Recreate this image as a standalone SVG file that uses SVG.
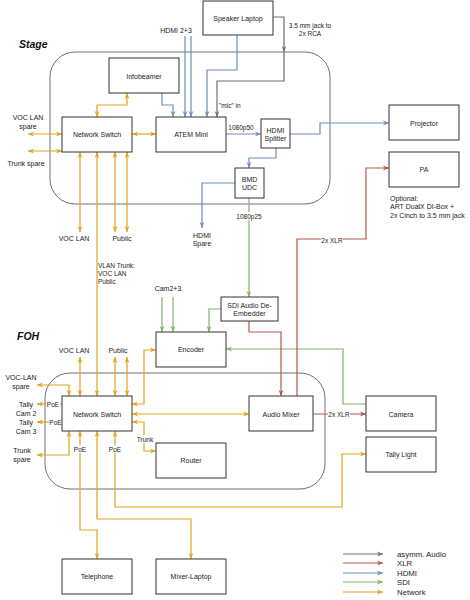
<svg xmlns="http://www.w3.org/2000/svg" width="470" height="600" viewBox="0 0 470 600">
<style>
text{font-family:"Liberation Sans",Arial,sans-serif;fill:#222;}
.n rect{fill:#fff;stroke:#333;stroke-width:1;}
.n text{font-size:7px;text-anchor:middle;dominant-baseline:central;}
.c{fill:none;stroke-width:1.2;}
.gy{stroke:#707070;}
.rd{stroke:#b85450;}
.bl{stroke:#6c8ebf;}
.gr{stroke:#82b366;}
.or{stroke:#e0a21c;}
.lbl{font-size:6.5px;text-anchor:middle;dominant-baseline:central;}
.t7{font-size:7px;dominant-baseline:central;}
.bg{fill:#fff;stroke:none;}
.cont{fill:none;stroke:#707070;stroke-width:1;}
.title{font-size:10.5px;font-weight:bold;font-style:italic;fill:#111;}
</style>
<defs>
<marker id="aGy" viewBox="0 0 10 10" refX="10" refY="5" markerUnits="userSpaceOnUse" markerWidth="6" markerHeight="6" orient="auto-start-reverse"><path d="M0,1 L10,5 L0,9 L3,5 z" fill="#707070"/></marker>
<marker id="aRd" viewBox="0 0 10 10" refX="10" refY="5" markerUnits="userSpaceOnUse" markerWidth="6" markerHeight="6" orient="auto-start-reverse"><path d="M0,1 L10,5 L0,9 L3,5 z" fill="#b85450"/></marker>
<marker id="aBl" viewBox="0 0 10 10" refX="10" refY="5" markerUnits="userSpaceOnUse" markerWidth="6" markerHeight="6" orient="auto-start-reverse"><path d="M0,1 L10,5 L0,9 L3,5 z" fill="#6c8ebf"/></marker>
<marker id="aGr" viewBox="0 0 10 10" refX="10" refY="5" markerUnits="userSpaceOnUse" markerWidth="6" markerHeight="6" orient="auto-start-reverse"><path d="M0,1 L10,5 L0,9 L3,5 z" fill="#82b366"/></marker>
<marker id="aOr" viewBox="0 0 10 10" refX="10" refY="5" markerUnits="userSpaceOnUse" markerWidth="6" markerHeight="6" orient="auto-start-reverse"><path d="M0,1 L10,5 L0,9 L3,5 z" fill="#e0a21c"/></marker>
</defs>

<g id="containers">
<rect class="cont" x="50" y="52" width="280" height="152" rx="25"/>
<rect class="cont" x="45" y="373" width="280" height="116" rx="25"/>
<text class="title" x="19" y="48">Stage</text>
<text class="title" x="17" y="340">FOH</text>
</g>

<g id="connectors">
<!-- gray audio -->
<path class="c gy" d="M273,17 H284 V52" marker-end="url(#aGy)"/>
<path class="c gy" d="M284,52 V81 H217 V117" marker-end="url(#aGy)"/>
<!-- blue HDMI -->
<path class="c bl" d="M237,35 V70 H207 V117" marker-end="url(#aBl)"/>
<path class="c bl" d="M185,36 V117" marker-end="url(#aBl)"/>
<path class="c bl" d="M191,36 V117" marker-end="url(#aBl)"/>
<path class="c bl" d="M162,93 V105 H173 V117" marker-end="url(#aBl)"/>
<path class="c bl" d="M226,134 H261" marker-end="url(#aBl)"/>
<path class="c bl" d="M290,134 H320 V123 H389" marker-end="url(#aBl)"/>
<path class="c bl" d="M276,148 V158 H249 V168" marker-end="url(#aBl)"/>
<path class="c bl" d="M235,183 H202 V228" marker-end="url(#aBl)"/>
<!-- green SDI -->
<path class="c gr" d="M249,198 V297" marker-end="url(#aGr)"/>
<path class="c gr" d="M221,309 H209 V332" marker-end="url(#aGr)"/>
<path class="c gr" d="M162,297 V332" marker-end="url(#aGr)"/>
<path class="c gr" d="M173,297 V332" marker-end="url(#aGr)"/>
<path class="c gr" d="M366,404 H343 V349 H226" marker-end="url(#aGr)"/>
<!-- red XLR -->
<path class="c rd" d="M249,321 V332 H281 V396" marker-end="url(#aRd)"/>
<path class="c rd" d="M297,396 V239 H366 V168 H389" marker-end="url(#aRd)"/>
<path class="c rd" d="M313,414 H366" marker-end="url(#aRd)"/>
<!-- orange network: stage -->
<path class="c or" d="M97,117 V105 H127 V93" marker-start="url(#aOr)" marker-end="url(#aOr)"/>
<path class="c or" d="M132,134 H156" marker-start="url(#aOr)" marker-end="url(#aOr)"/>
<path class="c or" d="M28,134 H62" marker-start="url(#aOr)" marker-end="url(#aOr)"/>
<path class="c or" d="M28,151 H62" marker-start="url(#aOr)" marker-end="url(#aOr)"/>
<path class="c or" d="M80,152 V232" marker-start="url(#aOr)" marker-end="url(#aOr)"/>
<path class="c or" d="M97,152 V396" marker-start="url(#aOr)" marker-end="url(#aOr)"/>
<path class="c or" d="M115,152 V232" marker-start="url(#aOr)" marker-end="url(#aOr)"/>
<path class="c or" d="M127,152 V232" marker-start="url(#aOr)" marker-end="url(#aOr)"/>
<!-- orange network: FOH -->
<path class="c or" d="M80,396 V357" marker-start="url(#aOr)" marker-end="url(#aOr)"/>
<path class="c or" d="M115,396 V357" marker-start="url(#aOr)" marker-end="url(#aOr)"/>
<path class="c or" d="M127,396 V357" marker-start="url(#aOr)" marker-end="url(#aOr)"/>
<path class="c or" d="M132,404 H144 V350 H156" marker-start="url(#aOr)" marker-end="url(#aOr)"/>
<path class="c or" d="M132,414 H249" marker-start="url(#aOr)" marker-end="url(#aOr)"/>
<path class="c or" d="M132,422 H144 V451 H156" marker-start="url(#aOr)" marker-end="url(#aOr)"/>
<path class="c or" d="M69,396 V385 H37" marker-start="url(#aOr)" marker-end="url(#aOr)"/>
<path class="c or" d="M62,404 H37" marker-end="url(#aOr)"/>
<path class="c or" d="M62,422 H37" marker-end="url(#aOr)"/>
<path class="c or" d="M69,431 V455 H37" marker-start="url(#aOr)" marker-end="url(#aOr)"/>
<path class="c or" d="M80,431 V530 H97 V559" marker-start="url(#aOr)" marker-end="url(#aOr)"/>
<path class="c or" d="M97,431 V519 H191 V559" marker-start="url(#aOr)" marker-end="url(#aOr)"/>
<path class="c or" d="M115,431 V507 H342 V454 H366" marker-start="url(#aOr)" marker-end="url(#aOr)"/>
<!-- connector labels -->
<text class="lbl" x="310" y="25">3.5 mm jack to</text>
<text class="lbl" x="310" y="33">2x RCA</text>
<text class="lbl" x="219" y="105" style="text-anchor:start">"mic" in</text>
<text class="lbl" x="241" y="127">1080p50</text>
<rect class="bg" x="237" y="212" width="24" height="8"/>
<text class="lbl" x="249" y="216">1080p25</text>
<rect class="bg" x="321" y="236" width="22" height="8"/>
<text class="lbl" x="332" y="240">2x XLR</text>
<rect class="bg" x="328" y="410" width="22" height="8"/>
<text class="lbl" x="339" y="414">2x XLR</text>
<rect class="bg" x="46" y="400" width="14" height="8"/>
<text class="lbl" x="53" y="404">PoE</text>
<rect class="bg" x="49" y="418" width="13" height="8"/>
<text class="lbl" x="55.5" y="422">PoE</text>
<rect class="bg" x="73" y="445" width="14" height="8"/>
<text class="lbl" x="80" y="449">PoE</text>
<rect class="bg" x="108" y="445" width="14" height="8"/>
<text class="lbl" x="115" y="449">PoE</text>
<rect class="bg" x="136" y="435" width="18" height="8"/>
<text class="lbl" x="145" y="439">Trunk</text>
<text class="lbl" x="98" y="265" style="text-anchor:start">VLAN Trunk:</text>
<text class="lbl" x="98" y="273" style="text-anchor:start">VOC LAN</text>
<text class="lbl" x="98" y="281" style="text-anchor:start">Public</text>
</g>

<g id="free-labels">
<text class="t7" x="176" y="30" text-anchor="middle">HDMI 2+3</text>
<text class="t7" x="28" y="117" text-anchor="middle">VOC LAN</text>
<text class="t7" x="28" y="126" text-anchor="middle">spare</text>
<text class="t7" x="26" y="163" text-anchor="middle">Trunk spare</text>
<text class="t7" x="74" y="238" text-anchor="middle">VOC LAN</text>
<text class="t7" x="122" y="238" text-anchor="middle">Public</text>
<text class="t7" x="202" y="235" text-anchor="middle">HDMI</text>
<text class="t7" x="202" y="243" text-anchor="middle">Spare</text>
<text class="t7" x="168" y="288" text-anchor="middle">Cam2+3</text>
<text class="t7" x="74" y="350" text-anchor="middle">VOC LAN</text>
<text class="t7" x="118" y="350" text-anchor="middle">Public</text>
<text class="t7" x="21" y="377" text-anchor="middle">VOC-LAN</text>
<text class="t7" x="21" y="386" text-anchor="middle">spare</text>
<text class="t7" x="26" y="404" text-anchor="middle">Tally</text>
<text class="t7" x="26" y="413" text-anchor="middle">Cam 2</text>
<text class="t7" x="26" y="422" text-anchor="middle">Tally</text>
<text class="t7" x="26" y="431" text-anchor="middle">Cam 3</text>
<text class="t7" x="22" y="450" text-anchor="middle">Trunk</text>
<text class="t7" x="22" y="459" text-anchor="middle">spare</text>
<text class="t7" x="390" y="198">Optional:</text>
<text class="t7" x="390" y="206.5">ART DualX DI-Box +</text>
<text class="t7" x="390" y="215">2x Cinch to 3.5 mm jack</text>
</g>

<g id="speaker-laptop" class="n"><rect x="203" y="1" width="70" height="34"/><text x="238" y="18">Speaker Laptop</text></g>
<g id="infobeamer" class="n"><rect x="109" y="58" width="70" height="35"/><text x="144" y="76">Infobeamer</text></g>
<g id="stage-switch" class="n"><rect x="62" y="117" width="70" height="35"/><text x="97" y="134">Network Switch</text></g>
<g id="atem-mini" class="n"><rect x="156" y="117" width="70" height="35"/><text x="191" y="134">ATEM Mini</text></g>
<g id="hdmi-splitter" class="n"><rect x="261" y="119" width="29" height="29"/><text x="275.5" y="130">HDMI</text><text x="275.5" y="138">Splitter</text></g>
<g id="projector" class="n"><rect x="389" y="105" width="70" height="35"/><text x="424" y="123">Projector</text></g>
<g id="pa" class="n"><rect x="389" y="152" width="70" height="35"/><text x="424" y="169">PA</text></g>
<g id="bmd-udc" class="n"><rect x="235" y="168" width="29" height="30"/><text x="249.5" y="179">BMD</text><text x="249.5" y="187">UDC</text></g>
<g id="sdi-deembedder" class="n"><rect x="221" y="297" width="57" height="24"/><text x="249.5" y="305">SDI Audio De-</text><text x="249.5" y="313">Embedder</text></g>
<g id="encoder" class="n"><rect x="156" y="332" width="70" height="35"/><text x="191" y="349">Encoder</text></g>
<g id="foh-switch" class="n"><rect x="62" y="396" width="70" height="35"/><text x="97" y="414">Network Switch</text></g>
<g id="audio-mixer" class="n"><rect x="249" y="396" width="64" height="35"/><text x="281" y="414">Audio Mixer</text></g>
<g id="camera" class="n"><rect x="366" y="396" width="70" height="35"/><text x="401" y="414">Camera</text></g>
<g id="tally-light" class="n"><rect x="366" y="437" width="70" height="35"/><text x="401" y="454">Tally Light</text></g>
<g id="router" class="n"><rect x="156" y="443" width="70" height="35"/><text x="191" y="460">Router</text></g>
<g id="telephone" class="n"><rect x="62" y="559" width="70" height="35"/><text x="97" y="576">Telephone</text></g>
<g id="mixer-laptop" class="n"><rect x="156" y="559" width="70" height="35"/><text x="191" y="576">Mixer-Laptop</text></g>

<g id="legend">
<path class="c gy" d="M343,554 H383" marker-end="url(#aGy)"/>
<path class="c rd" d="M343,563 H383" marker-end="url(#aRd)"/>
<path class="c bl" d="M343,573 H383" marker-end="url(#aBl)"/>
<path class="c gr" d="M343,582 H383" marker-end="url(#aGr)"/>
<path class="c or" d="M343,592 H383" marker-end="url(#aOr)"/>
<text class="t7" x="397" y="554" style="font-size:7.8px">asymm. Audio</text>
<text class="t7" x="397" y="563" style="font-size:7.8px">XLR</text>
<text class="t7" x="397" y="573" style="font-size:7.8px">HDMI</text>
<text class="t7" x="397" y="582" style="font-size:7.8px">SDI</text>
<text class="t7" x="397" y="592" style="font-size:7.8px">Network</text>
</g>
</svg>
